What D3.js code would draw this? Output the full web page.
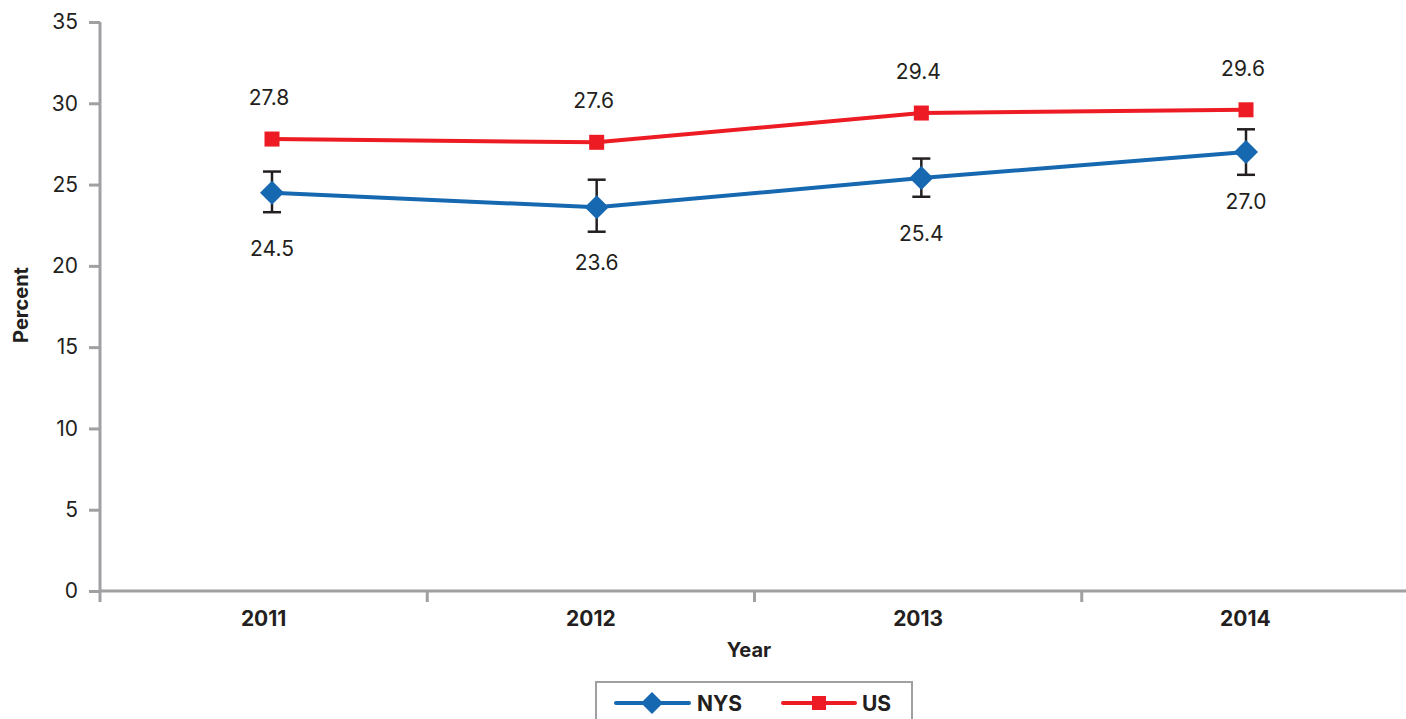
<!DOCTYPE html>
<html>
<head>
<meta charset="utf-8">
<script src="https://cdn.jsdelivr.net/npm/d3@7"></script>
<style>
  body { margin: 0; background: #fff; }
  text { font-family: Inter, "Open Sans", sans-serif; fill: #231f20; }
</style>
</head>
<body>
<svg id="chart" width="1406" height="719"></svg>
<script>
// data
var years = ["2011", "2012", "2013", "2014"];
var nys = [24.5, 23.6, 25.4, 27.0];
var nysLow = [23.3, 22.1, 24.25, 25.6];
var nysHigh = [25.8, 25.3, 26.6, 28.4];
var us = [27.8, 27.6, 29.4, 29.6];
var yTicks = [0, 5, 10, 15, 20, 25, 30, 35];

var blue = "#1668b0", red = "#ed1c24", grey = "#a0a0a3";

var svg = d3.select("#chart");

var y = d3.scaleLinear().domain([0, 35]).range([591, 22]);
// axis categories (bands) and point positions for the markers
var xBand = d3.scaleBand().domain(years).range([100, 1409]);
var x = d3.scalePoint().domain(years).range([272, 1246]);

// y axis
var yAxis = svg.append("g")
    .attr("transform", "translate(100,0)")
    .call(d3.axisLeft(y).tickValues(yTicks).tickSize(11).tickPadding(11));
yAxis.select(".domain").attr("d", "M0," + y(35) + "V602");
yAxis.selectAll("line, .domain").attr("stroke", grey).attr("stroke-width", 3);
yAxis.selectAll("text").style("font-size", "21px").attr("fill", "#231f20");

// x axis
var xAxis = svg.append("g")
    .attr("transform", "translate(0,591)")
    .call(d3.axisBottom(xBand).tickSize(0).tickPadding(20));
xAxis.select(".domain").attr("d", "M100,0H1406").attr("stroke", grey).attr("stroke-width", 3);
xAxis.selectAll("text").style("font-size", "21px").style("font-weight", "bold").attr("fill", "#231f20");
// separators between categories
svg.append("g").selectAll("line")
    .data(years.slice(1))
    .join("line")
    .attr("x1", function(d) { return xBand(d); })
    .attr("x2", function(d) { return xBand(d); })
    .attr("y1", 591).attr("y2", 602)
    .attr("stroke", grey).attr("stroke-width", 3);

// axis titles
svg.append("text")
    .attr("transform", "translate(28,305) rotate(-90)")
    .attr("text-anchor", "middle")
    .style("font-size", "20px").style("font-weight", "bold")
    .text("Percent");
svg.append("text")
    .attr("x", 749).attr("y", 657)
    .attr("text-anchor", "middle")
    .style("font-size", "20px").style("font-weight", "bold")
    .text("Year");

var line = d3.line()
    .x(function(d, i) { return x(years[i]); })
    .y(function(d) { return y(d); });

// US line
svg.append("path").datum(us)
    .attr("d", line).attr("fill", "none")
    .attr("stroke", red).attr("stroke-width", 4);

// NYS line
svg.append("path").datum(nys)
    .attr("d", line).attr("fill", "none")
    .attr("stroke", blue).attr("stroke-width", 4);

// error bars
var eb = svg.append("g").selectAll("g")
    .data(years)
    .join("g")
    .attr("stroke", "#231f20").attr("stroke-width", 2.5);
eb.append("line")
    .attr("x1", function(d) { return x(d); }).attr("x2", function(d) { return x(d); })
    .attr("y1", function(d, i) { return y(nysHigh[i]); })
    .attr("y2", function(d, i) { return y(nysLow[i]); });
eb.append("line")
    .attr("x1", function(d) { return x(d) - 9; }).attr("x2", function(d) { return x(d) + 9; })
    .attr("y1", function(d, i) { return y(nysHigh[i]); })
    .attr("y2", function(d, i) { return y(nysHigh[i]); });
eb.append("line")
    .attr("x1", function(d) { return x(d) - 9; }).attr("x2", function(d) { return x(d) + 9; })
    .attr("y1", function(d, i) { return y(nysLow[i]); })
    .attr("y2", function(d, i) { return y(nysLow[i]); });

// markers
svg.append("g").selectAll("rect")
    .data(us)
    .join("rect")
    .attr("x", function(d, i) { return x(years[i]) - 7.5; })
    .attr("y", function(d) { return y(d) - 7.5; })
    .attr("width", 15).attr("height", 15)
    .attr("fill", red);

svg.append("g").selectAll("path")
    .data(nys)
    .join("path")
    .attr("d", "M0,-12L12,0L0,12L-12,0Z")
    .attr("transform", function(d, i) { return "translate(" + x(years[i]) + "," + y(d) + ")"; })
    .attr("fill", blue);

// value labels
svg.append("g").selectAll("text")
    .data(us)
    .join("text")
    .attr("x", function(d, i) { return x(years[i]) - 3; })
    .attr("y", function(d) { return y(d) - 34; })
    .attr("text-anchor", "middle")
    .style("font-size", "21px")
    .text(function(d) { return d.toFixed(1); });

svg.append("g").selectAll("text")
    .data(nys)
    .join("text")
    .attr("x", function(d, i) { return x(years[i]); })
    .attr("y", function(d, i) { return i === 3 ? y(d) + 57 : y(d) + 63; })
    .attr("text-anchor", "middle")
    .style("font-size", "21px")
    .text(function(d) { return d.toFixed(1); });

// legend
var lg = svg.append("g");
lg.append("rect")
    .attr("x", 596).attr("y", 682).attr("width", 316).attr("height", 60)
    .attr("fill", "none").attr("stroke", grey).attr("stroke-width", 2);
lg.append("line").attr("x1", 616).attr("x2", 689).attr("y1", 703).attr("y2", 703)
    .attr("stroke", blue).attr("stroke-width", 4).attr("stroke-linecap", "round");
lg.append("path").attr("d", "M0,-11L11,0L0,11L-11,0Z")
    .attr("transform", "translate(652,703)").attr("fill", blue);
lg.append("text").attr("x", 697).attr("y", 711)
    .style("font-size", "21px").style("font-weight", "bold").text("NYS");
lg.append("line").attr("x1", 783).attr("x2", 855).attr("y1", 703).attr("y2", 703)
    .attr("stroke", red).attr("stroke-width", 4).attr("stroke-linecap", "round");
lg.append("rect").attr("x", 812).attr("y", 696).attr("width", 14).attr("height", 14)
    .attr("fill", red);
lg.append("text").attr("x", 862).attr("y", 711)
    .style("font-size", "21px").style("font-weight", "bold").text("US");
</script>
</body>
</html>
